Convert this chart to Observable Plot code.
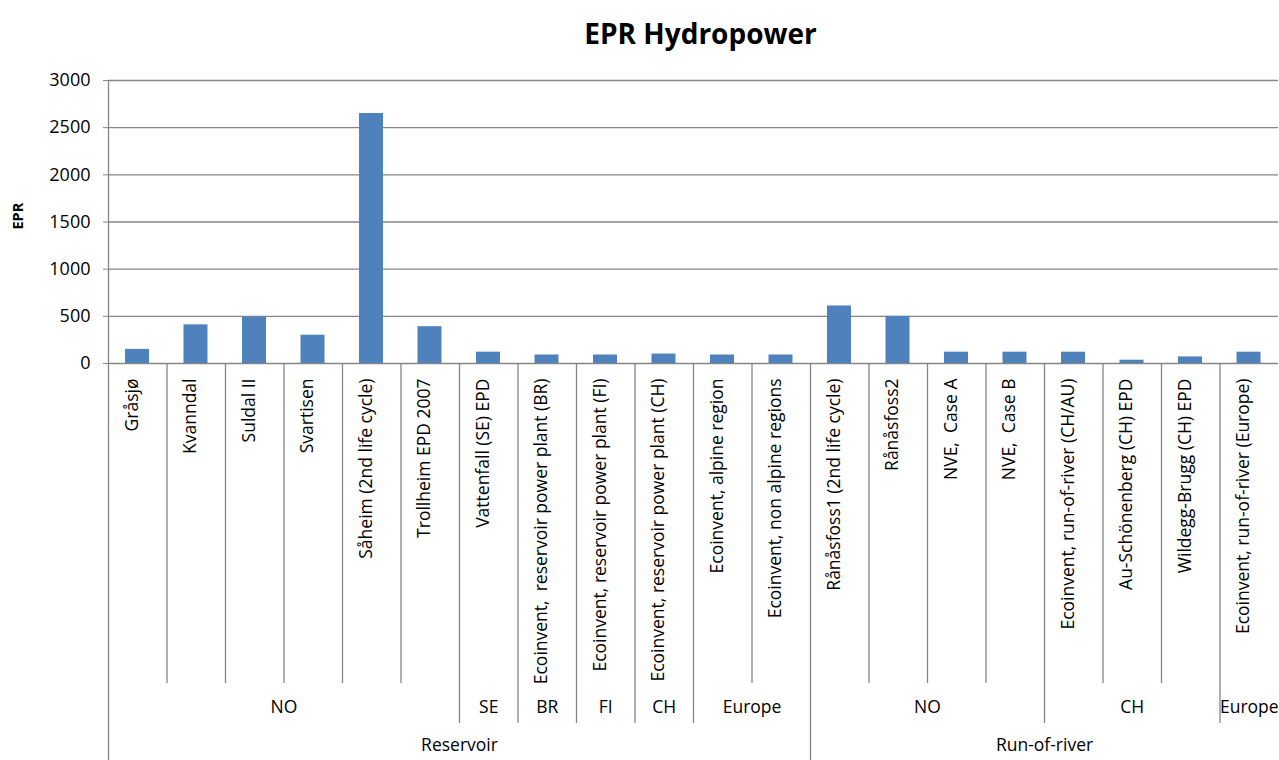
<!DOCTYPE html>
<html>
<head>
<meta charset="utf-8">
<script src="https://cdn.jsdelivr.net/npm/d3@7"></script>
<script src="https://cdn.jsdelivr.net/npm/@observablehq/plot@0.6"></script>
<style>
  html, body { margin: 0; padding: 0; background: #fff; }
  #chart svg { display: block; }
</style>
</head>
<body>
<div id="chart"></div>
<script>
const title = "EPR Hydropower";
const yLabel = "EPR";
const categories = [
  "Gråsjø", "Kvanndal", "Suldal II", "Svartisen", "Såheim (2nd life cycle)",
  "Trollheim EPD 2007", "Vattenfall (SE) EPD", "Ecoinvent,  reservoir power plant (BR)",
  "Ecoinvent, reservoir power plant (FI)", "Ecoinvent, reservoir power plant (CH)",
  "Ecoinvent, alpine region", "Ecoinvent, non alpine regions",
  "Rånåsfoss1 (2nd life cycle)", "Rånåsfoss2", "NVE,  Case A", "NVE,  Case B",
  "Ecoinvent, run-of-river (CH/AU)", "Au-Schönenberg (CH) EPD", "Wildegg-Brugg (CH) EPD",
  "Ecoinvent, run-of-river (Europe)"
];
const values = [150, 410, 490, 300, 2650, 390, 120, 90, 90, 100, 90, 90, 610, 500, 120, 120, 120, 35, 70, 120];
const countries = ["NO","NO","NO","NO","NO","NO","SE","BR","FI","CH","Europe","Europe",
                   "NO","NO","NO","NO","CH","CH","CH","Europe"];
const types = ["Reservoir","Reservoir","Reservoir","Reservoir","Reservoir","Reservoir","Reservoir",
               "Reservoir","Reservoir","Reservoir","Reservoir","Reservoir",
               "Run-of-river","Run-of-river","Run-of-river","Run-of-river","Run-of-river",
               "Run-of-river","Run-of-river","Run-of-river"];
const yTicks = [0, 500, 1000, 1500, 2000, 2500, 3000];

const data = categories.map((c, i) => ({i, name: c, value: values[i], country: countries[i], type: types[i]}));

// consecutive runs for group labels
function runs(keyFn, labelFn) {
  const out = [];
  data.forEach((d, i) => {
    const k = keyFn(d);
    if (out.length && out[out.length - 1].key === k) out[out.length - 1].end = i + 1;
    else out.push({key: k, label: labelFn(d), start: i, end: i + 1});
  });
  return out;
}
const countryRuns = runs(d => d.type + "|" + d.country, d => d.country);
const typeRuns = runs(d => d.type, d => d.type);

// separators between categories
const boundaries = d3.range(1, data.length).map(b => {
  const a = data[b - 1], c = data[b];
  const level = a.type !== c.type ? 3 : (a.country !== c.country ? 2 : 1);
  return {b, level};
});

const frameH = 283;
const font = "Open Sans";
const grid = "#868686";

const chart = Plot.plot({
  width: 1279,
  height: 760,
  marginTop: 80,
  marginBottom: 397,
  marginLeft: 108,
  marginRight: 1,
  style: {fontFamily: font, background: "#fff", color: "#000"},
  x: {type: "linear", domain: [0, data.length], axis: null},
  y: {domain: [0, 3000], axis: null, label: null},
  marks: [
    Plot.ruleY(yTicks, {stroke: grid, strokeWidth: 1.3}),
    Plot.rectY(data, {x1: d => d.i, x2: d => d.i + 1, y: "value", fill: "#4F81BD",
                      insetLeft: 17, insetRight: 17.5}),
    Plot.axisY(yTicks, {tickSize: 5, tickPadding: 13, fontSize: 18, stroke: grid, fill: "#000",
                        tickFormat: d => String(d), label: null}),
    Plot.ruleX([0], {stroke: grid, strokeWidth: 1.3, insetBottom: -397}),
    Plot.ruleX(boundaries.filter(d => d.level === 1), {x: "b", stroke: grid, strokeWidth: 1.3, insetTop: frameH, insetBottom: -320}),
    Plot.ruleX(boundaries.filter(d => d.level === 2), {x: "b", stroke: grid, strokeWidth: 1.3, insetTop: frameH, insetBottom: -360}),
    Plot.ruleX(boundaries.filter(d => d.level === 3), {x: "b", stroke: grid, strokeWidth: 1.3, insetTop: frameH, insetBottom: -397}),
    Plot.text(data, {x: d => d.i + 0.5, text: "name", frameAnchor: "bottom", rotate: -90,
                     textAnchor: "end", dy: 15, fontSize: 17.5}),
    Plot.text(countryRuns, {x: d => (d.start + d.end) / 2, text: "label", frameAnchor: "bottom",
                            dy: 349, fontSize: 17.5}),
    Plot.text(typeRuns, {x: d => (d.start + d.end) / 2, text: "label", frameAnchor: "bottom",
                         dy: 387, fontSize: 17.5}),
    Plot.text([title], {text: d => d, frameAnchor: "top", dx: 7, dy: -56, fontSize: 28, fontWeight: "bold"}),
    Plot.text([yLabel], {text: d => d, frameAnchor: "left", rotate: -90, dx: -90, dy: 7.5,
                         fontSize: 14.5, fontWeight: "bold"})
  ]
});
document.getElementById("chart").appendChild(chart);
</script>
</body>
</html>
